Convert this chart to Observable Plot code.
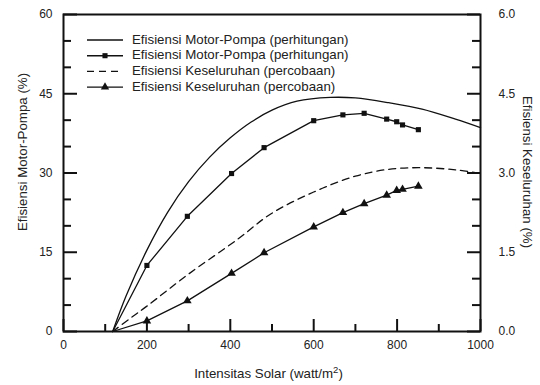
<!DOCTYPE html>
<html><head><meta charset="utf-8">
<script src="https://cdn.jsdelivr.net/npm/d3@7"></script>
<script src="https://cdn.jsdelivr.net/npm/@observablehq/plot@0.6"></script>
<style>
body{margin:0;background:#fff;font-family:"Liberation Sans",Arial,sans-serif}
#chart{position:relative;width:540px;height:385px}
</style>
</head><body><div id="chart"></div>
<script>
// ---- data ----
const calcX = [118, 150, 200, 250, 300, 350, 400, 450, 500, 560, 640, 700, 780, 860, 940, 1000];
const calcMotorPump = [0, 6.7, 15.4, 22.6, 28.35, 32.95, 36.65, 39.65, 41.9, 43.6, 44.3, 44.2, 43.3, 42.1, 40.2, 38.6];

const overallCalcX = [118, 160, 200, 297, 420, 496, 600, 700, 780, 860, 940, 1000];
const overallCalc = [0, 0.25, 0.48, 1.07, 1.76, 2.22, 2.64, 2.94, 3.07, 3.10, 3.06, 2.99];

const measX = [118, 200, 297, 403, 481, 600, 670, 721, 775, 799, 813, 851];
const measMotorPump = [0, 12.5, 21.8, 29.9, 34.8, 39.9, 41.0, 41.3, 40.2, 39.7, 39.1, 38.2];
const measOverall = [0, 0.20, 0.58, 1.10, 1.49, 1.98, 2.25, 2.42, 2.58, 2.67, 2.69, 2.75];

const xMajor = [0, 200, 400, 600, 800, 1000];
const xMinor = [100, 300, 500, 700, 900];
const yMajor = [0, 15, 30, 45, 60];
const yMinor = [5, 10, 20, 25, 35, 40, 50, 55];
const rightFactor = 10; // right axis (%) = left / 10

const legendLabels = [
  "Efisiensi Motor-Pompa (perhitungan)",
  "Efisiensi Motor-Pompa (perhitungan)",
  "Efisiensi Keseluruhan (percobaan)",
  "Efisiensi Keseluruhan (percobaan)"
];
const xTitle = "Intensitas Solar (watt/m";
const yLeftTitle = "Efisiensi Motor-Pompa (%)";
const yRightTitle = "Efisiensi Keseluruhan (%)";

// ---- tables ----
const calcData = calcX.map((x, i) => ({x, y: calcMotorPump[i]}));
const overallCalcData = overallCalcX.map((x, i) => ({x, y: overallCalc[i] * rightFactor}));
const measMPData = measX.map((x, i) => ({x, y: measMotorPump[i]}));
const measOvData = measX.map((x, i) => ({x, y: measOverall[i] * rightFactor}));

// ---- layout ----
const W = 540, H = 385, mL = 63, mR = 60, mT = 14, mB = 54;
const plotW = W - mL - mR, plotH = H - mT - mB;
const ink = "#111";

const chart = Plot.plot({
  width: W, height: H,
  marginLeft: mL, marginRight: mR, marginTop: mT, marginBottom: mB,
  style: {fontFamily: '"Liberation Sans", Arial, sans-serif', fontSize: "12px", color: "#222", background: "#fff"},
  x: {domain: [0, 1000]},
  y: {domain: [0, 60]},
  marks: [
    Plot.line(calcData, {x: "x", y: "y", stroke: ink, strokeWidth: 1.3, curve: "catmull-rom"}),
    Plot.line(overallCalcData, {x: "x", y: "y", stroke: ink, strokeWidth: 1.3, strokeDasharray: "7,5", curve: "catmull-rom"}),
    Plot.line(measMPData, {x: "x", y: "y", stroke: ink, strokeWidth: 1.3}),
    Plot.line(measOvData, {x: "x", y: "y", stroke: ink, strokeWidth: 1.3}),
    Plot.dot(measMPData, {filter: d => d.y > 0, x: "x", y: "y", symbol: "square", r: 2.9, fill: ink, stroke: "none"}),
    Plot.dot(measOvData, {filter: d => d.y > 0, x: "x", y: "y", symbol: "triangle", r: 3.2, fill: ink, stroke: "none"}),
    Plot.tickX(xMajor, {x: d => d, insetTop: plotH - 12, stroke: ink, strokeWidth: 2}),
    Plot.tickX(xMinor, {x: d => d, insetTop: plotH - 7, stroke: ink, strokeWidth: 2}),
    Plot.tickY(yMajor, {y: d => d, insetRight: plotW - 14, stroke: ink, strokeWidth: 2}),
    Plot.tickY(yMinor, {y: d => d, insetRight: plotW - 8, stroke: ink, strokeWidth: 2}),
    Plot.tickY(yMajor, {y: d => d, insetLeft: plotW - 13, stroke: ink, strokeWidth: 2}),
    Plot.tickY(yMinor, {y: d => d, insetLeft: plotW - 8, stroke: ink, strokeWidth: 2}),
    Plot.axisX(xMajor, {tickSize: 0, tickPadding: 9, label: null, tickFormat: d => String(d)}),
    Plot.axisY(yMajor, {anchor: "left", tickSize: 0, tickPadding: 11, label: null, tickFormat: d => String(d)}),
    Plot.axisY(yMajor, {anchor: "right", tickSize: 0, tickPadding: 18, label: null, tickFormat: d => (d / rightFactor).toFixed(1)}),
    Plot.frame({stroke: ink, strokeWidth: 2})
  ]
});
document.getElementById("chart").appendChild(chart);

// ---- titles & legend ----
const svg = d3.select(chart);
const ff = '"Liberation Sans", Arial, sans-serif';
const titleSize = 13.3;
const xt = svg.append("text").attr("x", mL + plotW / 2 - 3).attr("y", 378)
  .attr("text-anchor", "middle").attr("font-family", ff).attr("font-size", titleSize).attr("fill", "#222");
xt.append("tspan").text(xTitle);
xt.append("tspan").attr("dy", -5).attr("font-size", 9.5).text("2");
xt.append("tspan").attr("dy", 5).text(")");

svg.append("text").attr("transform", `translate(23,${152}) rotate(-90)`)
  .attr("text-anchor", "middle").attr("dominant-baseline", "middle")
  .attr("font-family", ff).attr("font-size", titleSize).attr("fill", "#222").text(yLeftTitle);
svg.append("text").attr("transform", `translate(527,${172}) rotate(90)`)
  .attr("text-anchor", "middle").attr("dominant-baseline", "middle")
  .attr("font-family", ff).attr("font-size", titleSize).attr("fill", "#222").text(yRightTitle);

const lg = svg.append("g").attr("transform", "translate(87,40)");
const rowH = 15.7;
const styles = [
  {dash: null, sym: null},
  {dash: null, sym: d3.symbolSquare, size: 26},
  {dash: "7,5", sym: null},
  {dash: null, sym: d3.symbolTriangle, size: 30}
];
legendLabels.forEach((lab, i) => {
  const g = lg.append("g").attr("transform", `translate(0,${i * rowH})`);
  const ln = g.append("line").attr("x1", 0).attr("x2", 36).attr("y1", 0).attr("y2", 0)
    .attr("stroke", ink).attr("stroke-width", 1.4);
  if (styles[i].dash) ln.attr("stroke-dasharray", styles[i].dash);
  if (styles[i].sym) g.append("path").attr("transform", "translate(18,0)")
    .attr("d", d3.symbol(styles[i].sym, styles[i].size)()).attr("fill", ink);
  g.append("text").attr("x", 45).attr("y", 0).attr("text-anchor", "start").attr("dominant-baseline", "middle")
    .attr("font-family", ff).attr("font-size", 13.3).attr("fill", "#222").text(lab);
});
</script>
</body></html>
